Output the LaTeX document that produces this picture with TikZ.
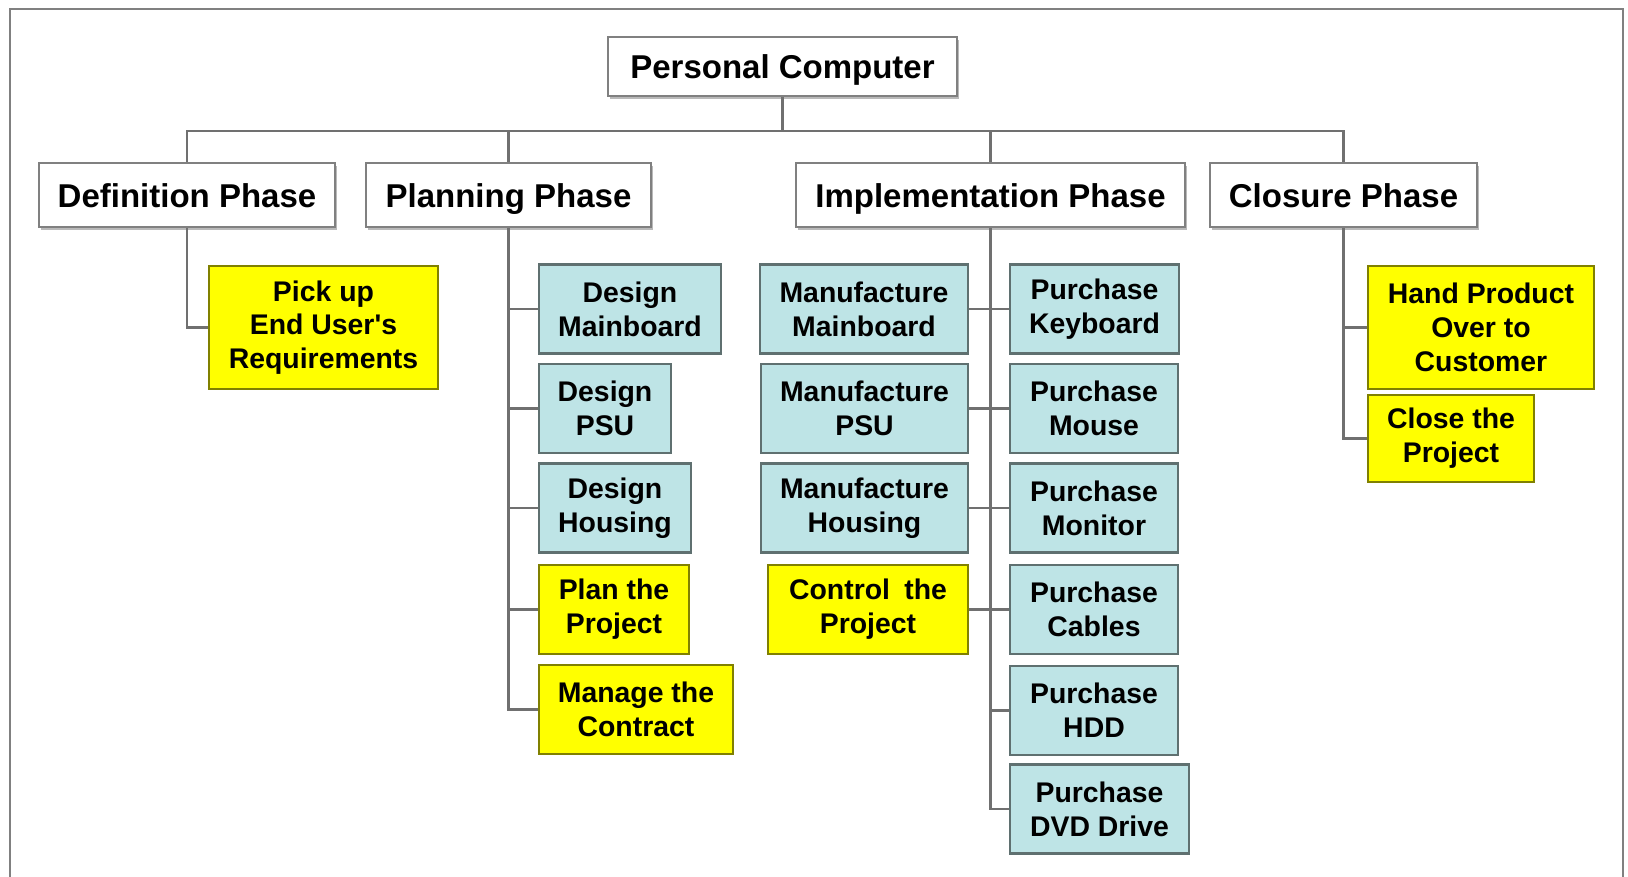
\documentclass[tikz,border=0pt]{standalone}
\usepackage{fontspec}
\setmainfont{Liberation Sans}
\usetikzlibrary{shadows}
\definecolor{taskblue}{RGB}{190,228,230}
\definecolor{taskedge}{RGB}{95,112,112}
\definecolor{taskyellow}{RGB}{255,255,0}
\definecolor{yellowedge}{RGB}{128,128,0}
\definecolor{linegray}{RGB}{112,112,112}
\tikzset{
  wbs/.style={align=center, inner sep=0pt, minimum height=44.5pt, line width=1.2pt,
    font=\bfseries\fontsize{14.2}{16.9}\selectfont},
  phase/.style={wbs, draw=gray, fill=white, minimum height=32pt,
    text height=14pt, text depth=1.5pt,
    font=\bfseries\fontsize{16.5}{19}\selectfont,
    drop shadow={shadow xshift=1.2pt, shadow yshift=-1.5pt, fill=gray!55, opacity=1}},
  bluebox/.style={wbs, draw=taskedge, fill=taskblue},
  yellowbox/.style={wbs, draw=yellowedge, fill=taskyellow},
  link/.style={draw=linegray, line width=1.3pt},
}
\begin{document}
\begin{tikzpicture}[x=0.5pt,y=-0.5pt]
			\useasboundingbox (0,0) rectangle (1628,877);
			\draw[gray, line width=1.2pt] (10,877) -- (10,9) -- (1623,9) -- (1623,877);
			% top and phases
			\node[phase, minimum width=174.5pt, minimum height=29.5pt] (pc) at (782.5,66.5) {Personal Computer};
			\node[phase, minimum width=148pt] (def) at (187,195) {Definition Phase};
			\node[phase, minimum width=142.5pt] (plan) at (508.5,195) {Planning Phase};
			\node[phase, minimum width=194.5pt] (impl) at (990.5,195) {Implementation Phase};
			\node[phase, minimum width=133.5pt] (clo) at (1343.5,195) {Closure Phase};
			% definition
			\node[yellowbox, minimum width=114.5pt, minimum height=61.5pt] (pick) at (323.5,327.5) {Pick up\\End User\textquotesingle s\\Requirements};
			% planning
			\node[bluebox, minimum width=91pt] (dmb) at (630,309) {Design\\Mainboard};
			\node[bluebox, minimum width=66pt] (dpsu) at (605,408.5) {Design\\PSU};
			\node[bluebox, minimum width=76pt] (dhou) at (615,508) {Design\\Housing};
			\node[yellowbox, minimum width=75pt] (pplan) at (614,609.5) {Plan the\\Project};
			\node[yellowbox, minimum width=97pt] (mcon) at (636,709.5) {Manage the\\Contract};
			% implementation
			\node[bluebox, minimum width=104pt] (mmb) at (864,309) {Manufacture\\Mainboard};
			\node[bluebox, minimum width=103.5pt] (mpsu) at (864.5,408.5) {Manufacture\\PSU};
			\node[bluebox, minimum width=103.5pt] (mhou) at (864.5,508) {Manufacture\\Housing};
			\node[yellowbox, minimum width=100pt] (cpro) at (868,609.5) {Control\enspace the\\Project};
			\node[bluebox, minimum width=84.5pt] (pkb) at (1094.5,309) {Purchase\\Keyboard};
			\node[bluebox, minimum width=84pt] (pmou) at (1094,408.5) {Purchase\\Mouse};
			\node[bluebox, minimum width=84pt] (pmon) at (1094,508) {Purchase\\Monitor};
			\node[bluebox, minimum width=84pt] (pcab) at (1094,609.5) {Purchase\\Cables};
			\node[bluebox, minimum width=84pt] (phdd) at (1094,710.5) {Purchase\\HDD};
			\node[bluebox, minimum width=89.5pt] (pdvd) at (1099.5,809) {Purchase\\DVD Drive};
			% closure
			\node[yellowbox, minimum width=113pt, minimum height=61.5pt] (hand) at (1481,327.5) {Hand Product\\Over to\\Customer};
			\node[yellowbox, minimum width=83pt, minimum height=43.5pt] (close) at (1451,438.5) {Close the\\Project};
			% connectors
			\coordinate (bar) at (0,131);
			\foreach \p in {def,plan,impl,clo}
				\draw[link] (pc.south) |- (\p.north |- bar) -- (\p.north);
			\draw[link] (def.south) |- (pick.west);
			\foreach \t in {dmb,dpsu,dhou,pplan,mcon}
				\draw[link] (plan.south) |- (\t.west);
			\foreach \t in {pkb,pmou,pmon,pcab,phdd,pdvd}
				\draw[link] (impl.south) |- (\t.west);
			\foreach \t in {mmb,mpsu,mhou,cpro}
				\draw[link] (impl.south) |- (\t.east);
			\foreach \t in {hand,close}
				\draw[link] (clo.south) |- (\t.west);
		\end{tikzpicture}
\end{document}
